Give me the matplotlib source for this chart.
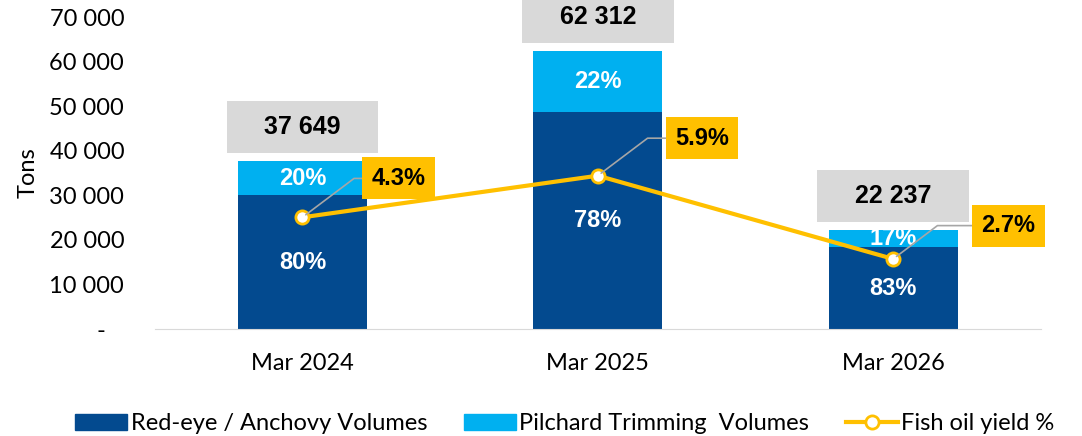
import matplotlib.pyplot as plt
from matplotlib.patches import Rectangle
from matplotlib.lines import Line2D
from matplotlib.patches import Patch
import numpy as np

# data
periods = ["Mar 2024", "Mar 2025", "Mar 2026"]
totals = [37649, 62312, 22237]
anchovy_pct = [80, 78, 83]
pilchard_pct = [20, 22, 17]
fish_oil_yield = [4.3, 5.9, 2.7]

dark_blue = "#034A8F"
light_blue = "#00B0F0"
yellow = "#FFC000"
grey_box = "#D9D9D9"

tick_font = "Lato"
bold_font = "Liberation Sans"

anchovy = [t * p / 100 for t, p in zip(totals, anchovy_pct)]
pilchard = [t - a for t, a in zip(totals, anchovy)]

fig = plt.figure(figsize=(10.82, 4.36), dpi=100)
ax = fig.add_axes([0.143, 0.245, 0.819, 0.716])
x = np.arange(len(periods))
w = 0.436

ax.bar(x, anchovy, w, color=dark_blue, zorder=2)
ax.bar(x, pilchard, w, bottom=anchovy, color=light_blue, zorder=2)

ax.set_xlim(-0.5, 2.5)
ax.set_ylim(0, 70000)
ax.set_yticks(range(0, 70001, 10000))
ax.set_yticklabels(["-   "] + [f"{v:,}".replace(",", " ") for v in range(10000, 70001, 10000)],
                   fontfamily=tick_font, fontsize=17)
ax.set_xticks(x)
ax.set_xticklabels(periods, fontfamily=tick_font, fontsize=17)
ax.tick_params(length=0)
ax.tick_params(axis="y", pad=22)
ax.tick_params(axis="x", pad=17)
ax.set_ylabel("Tons", fontfamily=tick_font, fontsize=17, labelpad=8)
for s in ["top", "right", "left"]:
    ax.spines[s].set_visible(False)
ax.spines["bottom"].set_color("#D9D9D9")

# percentage labels inside bars
for i in range(len(periods)):
    ax.text(x[i], anchovy[i] / 2, f"{anchovy_pct[i]}%", ha="center", va="center",
            color="white", fontsize=17, fontweight="bold", fontfamily=bold_font, zorder=4)
    ax.text(x[i], anchovy[i] + pilchard[i] / 2, f"{pilchard_pct[i]}%", ha="center", va="center",
            color="white", fontsize=17, fontweight="bold", fontfamily=bold_font, zorder=4)
    # total label box
    ax.add_patch(Rectangle((x[i] - 0.257, totals[i] + 1800), 0.514, 11700,
                           facecolor=grey_box, edgecolor="none", clip_on=False, zorder=3))
    ax.text(x[i], totals[i] + 1800 + 5850, f"{totals[i]:,}".replace(",", " "),
            ha="center", va="center", fontsize=18, fontweight="bold",
            fontfamily=bold_font, zorder=4, clip_on=False)

# fish oil yield on hidden secondary axis
ax2 = ax.twinx()
ax2.set_ylim(0, 12)
ax2.axis("off")
ax2.plot(x, fish_oil_yield, color=yellow, lw=3, marker="o", ms=9.5,
         mfc="white", mec=yellow, mew=2, zorder=5)

offsets = [(69, 28), (75, 27), (83, 24)]
for i, v in enumerate(fish_oil_yield):
    ax2.annotate(f"{v}%", xy=(x[i], v), xytext=offsets[i], textcoords="offset points",
                 ha="center", va="center", fontsize=17, fontweight="bold", fontfamily=bold_font,
                 bbox=dict(boxstyle="square,pad=0.4", fc=yellow, ec="none"),
                 arrowprops=dict(arrowstyle="-", color="#A6A6A6", lw=1.2,
                                 connectionstyle="angle,angleA=0,angleB=37,rad=0",
                                 shrinkA=0, shrinkB=3),
                 zorder=6)

handles = [Patch(color=dark_blue), Patch(color=light_blue),
           Line2D([], [], color=yellow, lw=3, marker="o", ms=9.5, mfc="white", mec=yellow, mew=2)]
labels = ["Red-eye / Anchovy Volumes", "Pilchard Trimming  Volumes", "Fish oil yield %"]
fig.legend(handles, labels, loc="lower center", bbox_to_anchor=(0.522, -0.045), ncol=3,
           frameon=False, prop={"family": tick_font, "size": 17},
           handlelength=2.2, handleheight=0.7, handletextpad=0.15, columnspacing=1.55)

fig.savefig("out.png", dpi=100)
